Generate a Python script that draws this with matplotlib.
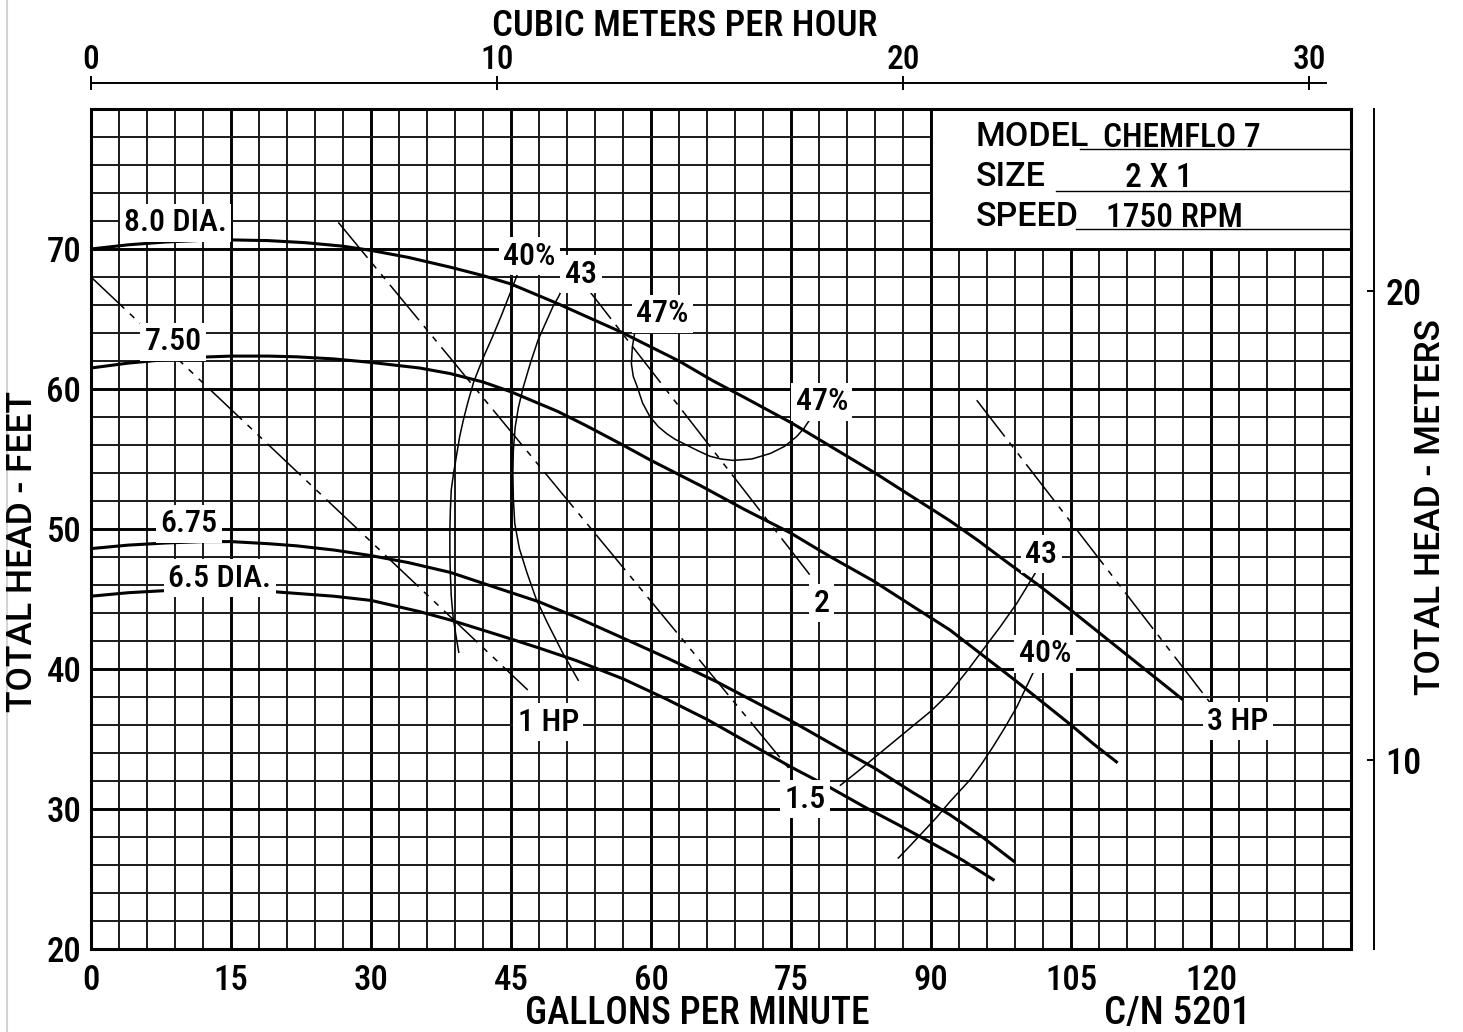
import matplotlib.pyplot as plt
from matplotlib import font_manager
from matplotlib.lines import Line2D
from matplotlib.patches import Rectangle

W, H = 1463, 1032


def pick_font():
    fonts = font_manager.fontManager.ttflist
    names = {f.name for f in fonts}
    if "Liberation Sans Narrow" in names:
        return "Liberation Sans Narrow", "normal", "normal", 1.0
    for fam in ["Roboto Condensed", "Noto Sans Condensed", "Open Sans Condensed"]:
        if fam in names:
            return fam, "normal", "medium", 1.0
    for fam, k in [("Noto Sans", 1.0), ("Roboto", 1.0), ("DejaVu Sans", 0.9)]:
        if any(f.name == fam and str(f.stretch) in ("condensed", "semi-condensed") for f in fonts):
            return fam, "condensed", "medium", k
    return "Roboto", "normal", "medium", 0.88


FONT, STRETCH, WEIGHT, K = pick_font()
plt.rcParams["font.family"] = [FONT, "DejaVu Sans"]
plt.rcParams["font.stretch"] = STRETCH
plt.rcParams["font.weight"] = WEIGHT
WIDE = dict(family=["Roboto", "DejaVu Sans"], stretch="normal", weight="medium")

# scales as drawn on the sheet
GPM_PER_M3H = 4.35
FT_PER_M = 3.35

# head-capacity curves (GPM, feet)
dia_80_q = [0, 4, 8, 12, 15, 19, 23, 27, 30, 34, 38.5, 42, 45, 50, 53, 56.7, 60, 63, 66.6, 70,
            75, 80, 84, 88, 92, 95, 98, 101.5, 105, 108, 111, 114, 117]
dia_80_h = [70, 70.3, 70.5, 70.62, 70.65, 70.6, 70.45, 70.2, 69.9, 69.4, 68.7, 68.1, 67.5, 66.1, 65.2,
            64.1, 63.0, 62.0, 60.6, 59.4, 57.6, 55.6, 54.0, 52.3, 50.6, 49.2, 47.7, 46.0, 44.2, 42.6,
            41.0, 39.4, 37.8]
dia_750_q = [0, 4, 8, 12, 15, 19, 22, 26, 30, 35.2, 38.5, 42, 45, 50, 53, 56.7, 60, 65.3, 70, 75,
             79, 83.8, 88, 92, 95.5, 99, 102, 105, 107.5, 110]
dia_750_h = [61.5, 61.85, 62.1, 62.28, 62.35, 62.35, 62.3, 62.15, 61.9, 61.5, 61.1, 60.5, 59.8, 58.4,
             57.4, 56.1, 54.9, 53.1, 51.4, 49.7, 48.1, 46.3, 44.5, 42.8, 41.0, 39.2, 37.6, 36.0, 34.6, 33.3]
dia_675_q = [0, 4, 8, 12, 15, 19, 22, 26, 30, 34, 38.5, 43, 48, 52, 56.7, 62, 67, 71, 75, 80, 84,
             88, 92, 95.5, 99]
dia_675_h = [48.6, 48.85, 49.0, 49.1, 49.1, 48.95, 48.8, 48.5, 48.1, 47.6, 46.9, 45.9, 44.8, 43.7,
             42.3, 40.7, 39.1, 37.7, 36.3, 34.4, 32.9, 31.2, 29.6, 28.0, 26.2]
dia_65_q = [0, 4, 8, 12, 15, 19, 22, 26, 30, 35.2, 38.5, 43.8, 48, 52, 57, 61.5, 66, 70.5, 75, 79,
            83, 86.7, 90, 93.5, 96.8]
dia_65_h = [45.2, 45.45, 45.6, 45.7, 45.7, 45.55, 45.4, 45.2, 44.9, 44.1, 43.5, 42.4, 41.5, 40.6,
            39.3, 37.9, 36.4, 34.7, 33.0, 31.6, 30.1, 28.8, 27.6, 26.3, 24.9]

# efficiency curves
eff40_l_q = [45.8, 45.0, 44.0, 43.0, 42.0, 41.0, 40.4, 39.9, 39.5, 39.2, 38.85, 38.6, 38.5, 38.45,
             38.45, 38.5, 38.6, 38.8, 39.1, 39.4]
eff40_l_h = [68.4, 67.0, 65.3, 63.7, 62.2, 60.5, 59.1, 57.8, 56.6, 55.4, 54.0, 52.8, 51.3, 49.9,
             48.3, 46.8, 45.2, 43.7, 42.4, 41.2]
eff43_l_q = [50.6, 50.1, 49.5, 48.7, 47.9, 47.1, 46.3, 45.8, 45.45, 45.25, 45.2, 45.25, 45.4, 45.9,
             46.7, 47.7, 48.9, 50.5, 52.2]
eff43_l_h = [67.3, 66.6, 65.9, 64.7, 63.5, 61.9, 60.1, 58.7, 57.3, 55.6, 54.0, 52.2, 50.4, 48.6,
             46.9, 45.0, 43.3, 41.2, 39.2]
eff47_q = [58.3, 58.0, 57.9, 58.1, 58.5, 59.1, 59.9, 60.8, 61.7, 62.6, 63.5, 65.0, 66.3, 67.5,
           68.8, 70.8, 72.8, 74.3, 75.6, 76.4, 77.0]
eff47_h = [64.2, 63.0, 61.8, 60.9, 60.2, 59.0, 58.0, 57.3, 56.8, 56.4, 56.1, 55.6, 55.2, 55.0,
           54.9, 55.0, 55.4, 55.9, 56.6, 57.2, 57.8]
eff43_r_q = [101.4, 100.3, 99.2, 97.4, 95.6, 93.8, 92, 90, 88, 86, 84, 82, 80.3]
eff43_r_h = [47.1, 45.9, 44.7, 43.0, 41.4, 39.8, 38.3, 37.0, 35.9, 34.8, 33.7, 32.6, 31.7]
eff40_r_q = [101.2, 100.2, 99.2, 97.9, 96.6, 95.4, 94.2, 93.1, 92, 90.6, 89.2, 87.8, 86.5]
eff40_r_h = [40.1, 38.7, 37.3, 35.8, 34.4, 33.2, 32.1, 31.3, 30.5, 29.4, 28.4, 27.4, 26.5]

# horsepower lines
hp_1_q, hp_1_h = [0, 46.8], [68.0, 38.5]
hp_15_q, hp_15_h = [26.5, 74.9], [71.9, 32.8]
hp_2_q, hp_2_h = [52.7, 77.4], [67.6, 46.4]
hp_3_q, hp_3_h = [94.9, 119.9], [59.2, 37.6]

curve_labels = ["8.0 DIA.", "7.50", "6.75", "6.5 DIA.", "40%", "43", "47%", "47%",
                "2", "43", "40%", "1 HP", "1.5", "3 HP"]
label_q = [9.05, 8.8, 10.5, 13.8, 47.0, 52.5, 61.2, 78.3, 78.3, 101.8, 102.2, 49.0, 76.5, 122.9]
label_h = [72.1, 63.6, 50.6, 46.7, 69.7, 68.4, 65.6, 59.3, 44.9, 48.4, 41.3, 36.4, 30.9, 36.5]

gpm_ticks = [0, 15, 30, 45, 60, 75, 90, 105, 120]
ft_ticks = [20, 30, 40, 50, 60, 70]
m3h_ticks = [0, 10, 20, 30]
m_ticks = [10, 20]

info_keys = ["MODEL", "SIZE", "SPEED"]
info_values = ["CHEMFLO 7", "2 X 1", "1750 RPM"]


def fx(px):
    return px / W


def fy(py):
    return 1 - py / H


fig = plt.figure(figsize=(W / 100, H / 100), dpi=100)
fig.patch.set_facecolor("white")

ax = fig.add_axes([fx(91), fy(949), (1351 - 91) / W, (949 - 109) / H])
ax.set_xlim(0, 135)
ax.set_ylim(20, 80)
ax.set_xticks(gpm_ticks)
ax.set_yticks(ft_ticks)
ax.set_xticks(range(0, 136, 3), minor=True)
ax.set_yticks(range(20, 81, 2), minor=True)
ax.set_axisbelow(True)
ax.grid(which="minor", color="#1a1a1a", lw=1.4)
ax.grid(which="major", color="black", lw=2.1)
ax.axvline(135, color="black", lw=2.1)
ax.axhline(80, color="black", lw=2.1)
for s in ax.spines.values():
    s.set_linewidth(2.2)
ax.tick_params(which="both", length=0)
ax.tick_params(axis="x", labelsize=25 * K, pad=11)
ax.tick_params(axis="y", labelsize=25 * K, pad=7)

# data plate in the upper right
ax.add_patch(Rectangle((90, 70), 45, 10, facecolor="white", edgecolor="black", lw=2.1, zorder=1.5))
key_y = [78.25, 75.4, 72.5]
val_x = [116.9, 114.4, 116.1]
line_x0 = [106.0, 103.4, 105.5]
line_y = [77.14, 74.14, 71.43]
for key, val, ky, vx, x0, ly in zip(info_keys, info_values, key_y, val_x, line_x0, line_y):
    ax.text(94.8, ky, key, fontsize=24.5, ha="left", va="center_baseline", zorder=3, **WIDE)
    ax.text(vx, ky - 0.05, val, fontsize=24 * K, ha="center", va="center_baseline", zorder=3)
    ax.plot([x0, 135], [ly, ly], color="black", lw=1.0, zorder=3)

for q, h in [(dia_80_q, dia_80_h), (dia_750_q, dia_750_h), (dia_675_q, dia_675_h), (dia_65_q, dia_65_h)]:
    ax.plot(q, h, color="black", lw=2.2, solid_capstyle="butt", solid_joinstyle="round", zorder=3)

for q, h in [(eff40_l_q, eff40_l_h), (eff43_l_q, eff43_l_h), (eff47_q, eff47_h),
             (eff43_r_q, eff43_r_h), (eff40_r_q, eff40_r_h)]:
    ax.plot(q, h, color="black", lw=1.1, solid_joinstyle="round", zorder=3)

for q, h in [(hp_1_q, hp_1_h), (hp_15_q, hp_15_h), (hp_2_q, hp_2_h), (hp_3_q, hp_3_h)]:
    ax.plot(q, h, color="black", lw=1.1, linestyle=(0, (30, 5, 4, 5, 4, 5)), zorder=3)

for text, q, h in zip(curve_labels, label_q, label_h):
    ax.text(q, h, text, fontsize=23 * K, ha="center", va="center_baseline", zorder=5,
            bbox=dict(boxstyle="square,pad=0.14", facecolor="white", edgecolor="none"))

# cubic meters per hour scale on top
ax_t = fig.add_axes([fx(91), fy(83), (1326 - 91) / W, 0.0001])
ax_t.set_xlim(0, 135 * (1326 - 91) / (1351 - 91) / GPM_PER_M3H)
ax_t.set_ylim(0, 1)
for name, s in ax_t.spines.items():
    s.set_visible(name == "top")
ax_t.spines["top"].set_linewidth(1.4)
ax_t.xaxis.tick_top()
ax_t.set_xticks(m3h_ticks)
ax_t.set_yticks([])
ax_t.tick_params(axis="x", direction="inout", length=10, width=1.4, labelsize=24 * K, pad=0)
ax_t.patch.set_visible(False)

# meters scale on the right
ax_r = fig.add_axes([fx(1374), fy(949), 0.0001, (949 - 109) / H])
ax_r.set_ylim(20 / FT_PER_M, 80 / FT_PER_M)
ax_r.set_xlim(0, 1)
for name, s in ax_r.spines.items():
    s.set_visible(name == "right")
ax_r.spines["right"].set_linewidth(1.4)
ax_r.yaxis.tick_right()
ax_r.set_yticks(m_ticks)
ax_r.set_xticks([])
ax_r.tick_params(axis="y", direction="in", length=5, width=1.4, labelsize=26 * K, pad=8)
ax_r.patch.set_visible(False)

fig.text(fx(685), fy(22), "CUBIC METERS PER HOUR", fontsize=26.5 * K, ha="center", va="center_baseline")
fig.text(fx(697), fy(1010), "GALLONS PER MINUTE", fontsize=27 * K, ha="center", va="center_baseline")
fig.text(fx(1177), fy(1010), "C/N 5201", fontsize=28 * K, ha="center", va="center_baseline")
fig.text(fx(23), fy(552), "TOTAL HEAD - FEET", fontsize=25.5, rotation=90, ha="center", va="center", **WIDE)
fig.text(fx(1430), fy(507), "TOTAL HEAD - METERS", fontsize=25.5, rotation=90, ha="center", va="center", **WIDE)

fig.add_artist(Line2D([fx(7), fx(7)], [0, 1], color="#d4d4d4", lw=1.5, transform=fig.transFigure))

fig.savefig("out.png", dpi=100)
